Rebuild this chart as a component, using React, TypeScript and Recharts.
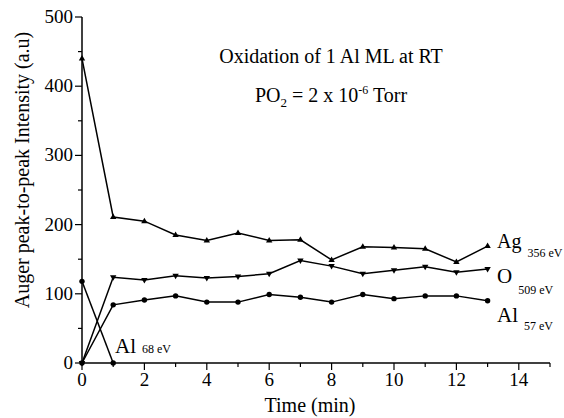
import React from 'react';
import { LineChart, Line, XAxis, YAxis, Customized } from 'recharts';

const times = [0, 1, 2, 3, 4, 5, 6, 7, 8, 9, 10, 11, 12, 13];
const agValues = [440, 211, 205, 185, 177, 188, 177, 178, 149, 168, 167, 165, 146, 169];
const oValues = [0, 124, 120, 126, 123, 125, 129, 148, 140, 129, 134, 139, 131, 136];
const al57Values = [0, 84, 91, 97, 88, 88, 99, 95, 88, 99, 93, 97, 97, 90];
const al68Values: (number | null)[] = [118, 0, null, null, null, null, null, null, null, null, null, null, null, null];
const xTicks = [0, 1, 2, 3, 4, 5, 6, 7, 8, 9, 10, 11, 12, 13, 14, 15];
const yTicks = [0, 50, 100, 150, 200, 250, 300, 350, 400, 450, 500];

const data = times.map((t, i) => ({
  t,
  ag: agValues[i],
  o: oValues[i],
  al57: al57Values[i],
  al68: al68Values[i],
}));

const FONT = '"Liberation Serif", "Times New Roman", Times, serif';
const serif = { fontFamily: FONT };

const XTick = (props: any) => {
  const { x, y, payload } = props;
  const major = payload.value % 2 === 0;
  return (
    <g>
      <line x1={x} x2={x} y1={y} y2={y + (major ? 7 : 4)} stroke="#000" strokeWidth={1.2} />
      {major && (
        <text x={x} y={y + 23} textAnchor="middle" fontFamily={FONT} style={{ ...serif, fontSize: 19 }} fill="#000">
          {payload.value}
        </text>
      )}
    </g>
  );
};

const YTick = (props: any) => {
  const { x, y, payload } = props;
  const major = payload.value % 100 === 0;
  return (
    <g>
      <line x1={x} x2={x - (major ? 7 : 4)} y1={y} y2={y} stroke="#000" strokeWidth={1.2} />
      {major && (
        <text x={x - 9} y={y + 6} textAnchor="end" fontFamily={FONT} style={{ ...serif, fontSize: 19 }} fill="#000">
          {payload.value}
        </text>
      )}
    </g>
  );
};

const TriUp = (props: any) => {
  const { cx, cy } = props;
  if (cx == null || cy == null) return null;
  return <path d={`M${cx},${cy - 3.5} L${cx + 3.2},${cy + 2} L${cx - 3.2},${cy + 2} Z`} fill="#000" />;
};
const TriDown = (props: any) => {
  const { cx, cy } = props;
  if (cx == null || cy == null) return null;
  return <path d={`M${cx},${cy + 3.5} L${cx + 3.2},${cy - 2} L${cx - 3.2},${cy - 2} Z`} fill="#000" />;
};
const Dot = (props: any) => {
  const { cx, cy } = props;
  if (cx == null || cy == null) return null;
  return <circle cx={cx} cy={cy} r={2.7} fill="#000" />;
};

const Annotations = () => (
  <g fontFamily={FONT} style={serif} fill="#000">
    <text x={331} y={63} textAnchor="middle" style={{ ...serif, fontSize: 20 }}>Oxidation of 1 Al ML at RT</text>
    <text x={331} y={102} textAnchor="middle" style={{ ...serif, fontSize: 20 }}>
      PO<tspan fontSize={13} dy={5}>2</tspan>
      <tspan dy={-5}> = 2 x 10</tspan>
      <tspan fontSize={12} dy={-8}>-6</tspan>
      <tspan dy={8}> Torr</tspan>
    </text>
    <text x={497} y={248} style={{ ...serif, fontSize: 20 }}>Ag<tspan fontSize={12} dx={6} dy={9}>356 eV</tspan></text>
    <text x={497} y={283} style={{ ...serif, fontSize: 21 }}>O<tspan fontSize={12} dx={6} dy={11}>509 eV</tspan></text>
    <text x={497} y={322} style={{ ...serif, fontSize: 21 }}>Al<tspan fontSize={12} dx={6} dy={8}>57 eV</tspan></text>
    <text x={115} y={353} style={{ ...serif, fontSize: 21 }}>Al<tspan fontSize={12} dx={6} dy={0}>68 eV</tspan></text>
    <text x={310} y={412} textAnchor="middle" style={{ ...serif, fontSize: 20 }}>Time (min)</text>
    <text x={0} y={0} transform="translate(29,170) rotate(-90)" textAnchor="middle" style={{ ...serif, fontSize: 20 }}>
      Auger peak-to-peak Intensity (a.u)
    </text>
  </g>
);

export default function App() {
  return (
    <div style={{ position: 'absolute', left: 0, top: 0, width: 564, height: 418, background: '#fff' }}>
      <LineChart width={564} height={418} data={data} margin={{ top: 17, right: 14, bottom: 0, left: 0 }}>
        <XAxis
          dataKey="t"
          type="number"
          domain={[0, 15]}
          ticks={xTicks}
          interval={0}
          tickLine={false}
          tickSize={0}
          tickMargin={0}
          tick={<XTick />}
          axisLine={{ stroke: '#000', strokeWidth: 1.5 }}
          height={55}
        />
        <YAxis
          type="number"
          domain={[0, 500]}
          ticks={yTicks}
          interval={0}
          tickLine={false}
          tickSize={0}
          tickMargin={0}
          tick={<YTick />}
          axisLine={{ stroke: '#000', strokeWidth: 1.5 }}
          width={82}
        />
        <Line dataKey="ag" stroke="#000" strokeWidth={1.5} dot={<TriUp />} isAnimationActive={false} />
        <Line dataKey="o" stroke="#000" strokeWidth={1.5} dot={<TriDown />} isAnimationActive={false} />
        <Line dataKey="al57" stroke="#000" strokeWidth={1.5} dot={<Dot />} isAnimationActive={false} />
        <Line dataKey="al68" stroke="#000" strokeWidth={1.5} dot={<Dot />} isAnimationActive={false} connectNulls={false} />
        <Customized component={Annotations} />
      </LineChart>
    </div>
  );
}
